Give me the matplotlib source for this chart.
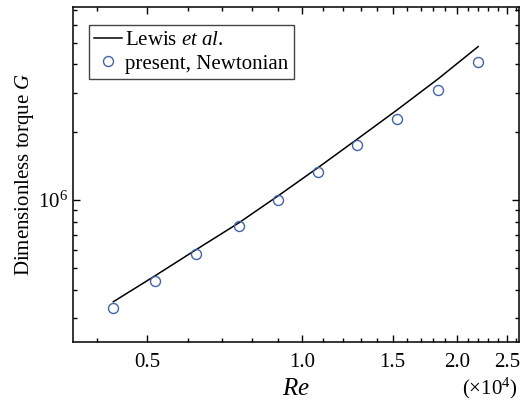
import numpy as np
import matplotlib
matplotlib.use('Agg')
import matplotlib.pyplot as plt
from matplotlib import rcParams
from matplotlib.ticker import FixedLocator, NullFormatter, FixedFormatter, LogLocator, FuncFormatter

rcParams['font.family'] = 'Liberation Serif'
rcParams['font.size'] = 15
rcParams['mathtext.fontset'] = 'custom'
rcParams['mathtext.rm'] = 'Liberation Serif'
rcParams['mathtext.it'] = 'Liberation Serif:italic'

# Lewis et al. correlation (Re in units of 1e4)
re_lewis = [0.43, 0.518, 0.622, 0.754, 0.899, 1.076, 1.28, 1.527, 1.84, 2.199]
g_lewis = [3.532e5, 4.603e5, 6.007e5, 7.917e5, 1.044e6, 1.396e6, 1.863e6,
           2.504e6, 3.457e6, 4.801e6]

# present simulation, Newtonian
re_present = [0.430, 0.518, 0.622, 0.754, 0.899, 1.076, 1.280, 1.527, 1.840, 2.199]
g_present = [3.32e5, 4.36e5, 5.75e5, 7.67e5, 1.0e6, 1.33e6, 1.756e6, 2.30e6, 3.09e6, 4.12e6]

x_major = [0.5, 1.0, 1.5, 2.0, 2.5]
x_major_labels = ['0.5', '1.0', '1.5', '2.0', '2.5']
x_minor = [0.4, 0.6, 0.7, 0.8, 0.9, 1.1, 1.2, 1.3, 1.4, 1.6, 1.7, 1.8, 1.9,
           2.1, 2.2, 2.3, 2.4, 2.6]

fig = plt.figure(figsize=(5.2, 4.0), dpi=100)
ax = fig.add_axes([73/520, 58/400, 446/520, 335/400])

ax.plot(re_lewis, g_lewis, color='black', lw=1.1, label='Lewis $et\\ al$.')
ax.plot(re_present, g_present, ls='none', marker='o', ms=7.2, mfc='none',
        mec='#4264a6', mew=1.0, label='present, Newtonian')

ax.set_xscale('log')
ax.set_yscale('log')
ax.set_xlim(0.359, 2.64)
ax.set_ylim(2.34e5, 7.2e6)

ax.xaxis.set_major_locator(FixedLocator(x_major))
ax.xaxis.set_major_formatter(FixedFormatter(x_major_labels))
ax.xaxis.set_minor_locator(FixedLocator(x_minor))
ax.xaxis.set_minor_formatter(NullFormatter())

ax.yaxis.set_major_locator(FixedLocator([1e6]))
ax.yaxis.set_major_formatter(FuncFormatter(lambda v, p: '$10^{6}$'))
ax.yaxis.set_minor_locator(LogLocator(base=10, subs=np.arange(2, 10)))
ax.yaxis.set_minor_formatter(NullFormatter())

ax.tick_params(which='both', direction='in', top=True, right=True, width=1.0)
ax.tick_params(which='major', length=5)
ax.tick_params(which='minor', length=3)
ax.tick_params(axis='x', which='major', pad=8)
ax.tick_params(axis='y', which='major', pad=4)
for s in ax.spines.values():
    s.set_linewidth(1.1)

ax.set_xlabel('$Re$', fontsize=18, labelpad=4)
ax.set_ylabel('Dimensionless torque $G$', labelpad=1)
fig.text(518/520, 0.03, '($\\times 10^4$)', ha='right', va='center', fontsize=15)

leg = ax.legend(loc='upper left', bbox_to_anchor=(16/446, 1 - 18/335),
                fancybox=False, edgecolor='#444444',
                framealpha=1, handlelength=1.35, handletextpad=0.15,
                labelspacing=0.2, borderpad=0.25, borderaxespad=0)
leg.get_frame().set_linewidth(1.0)

fig.savefig('out.png', dpi=100)
